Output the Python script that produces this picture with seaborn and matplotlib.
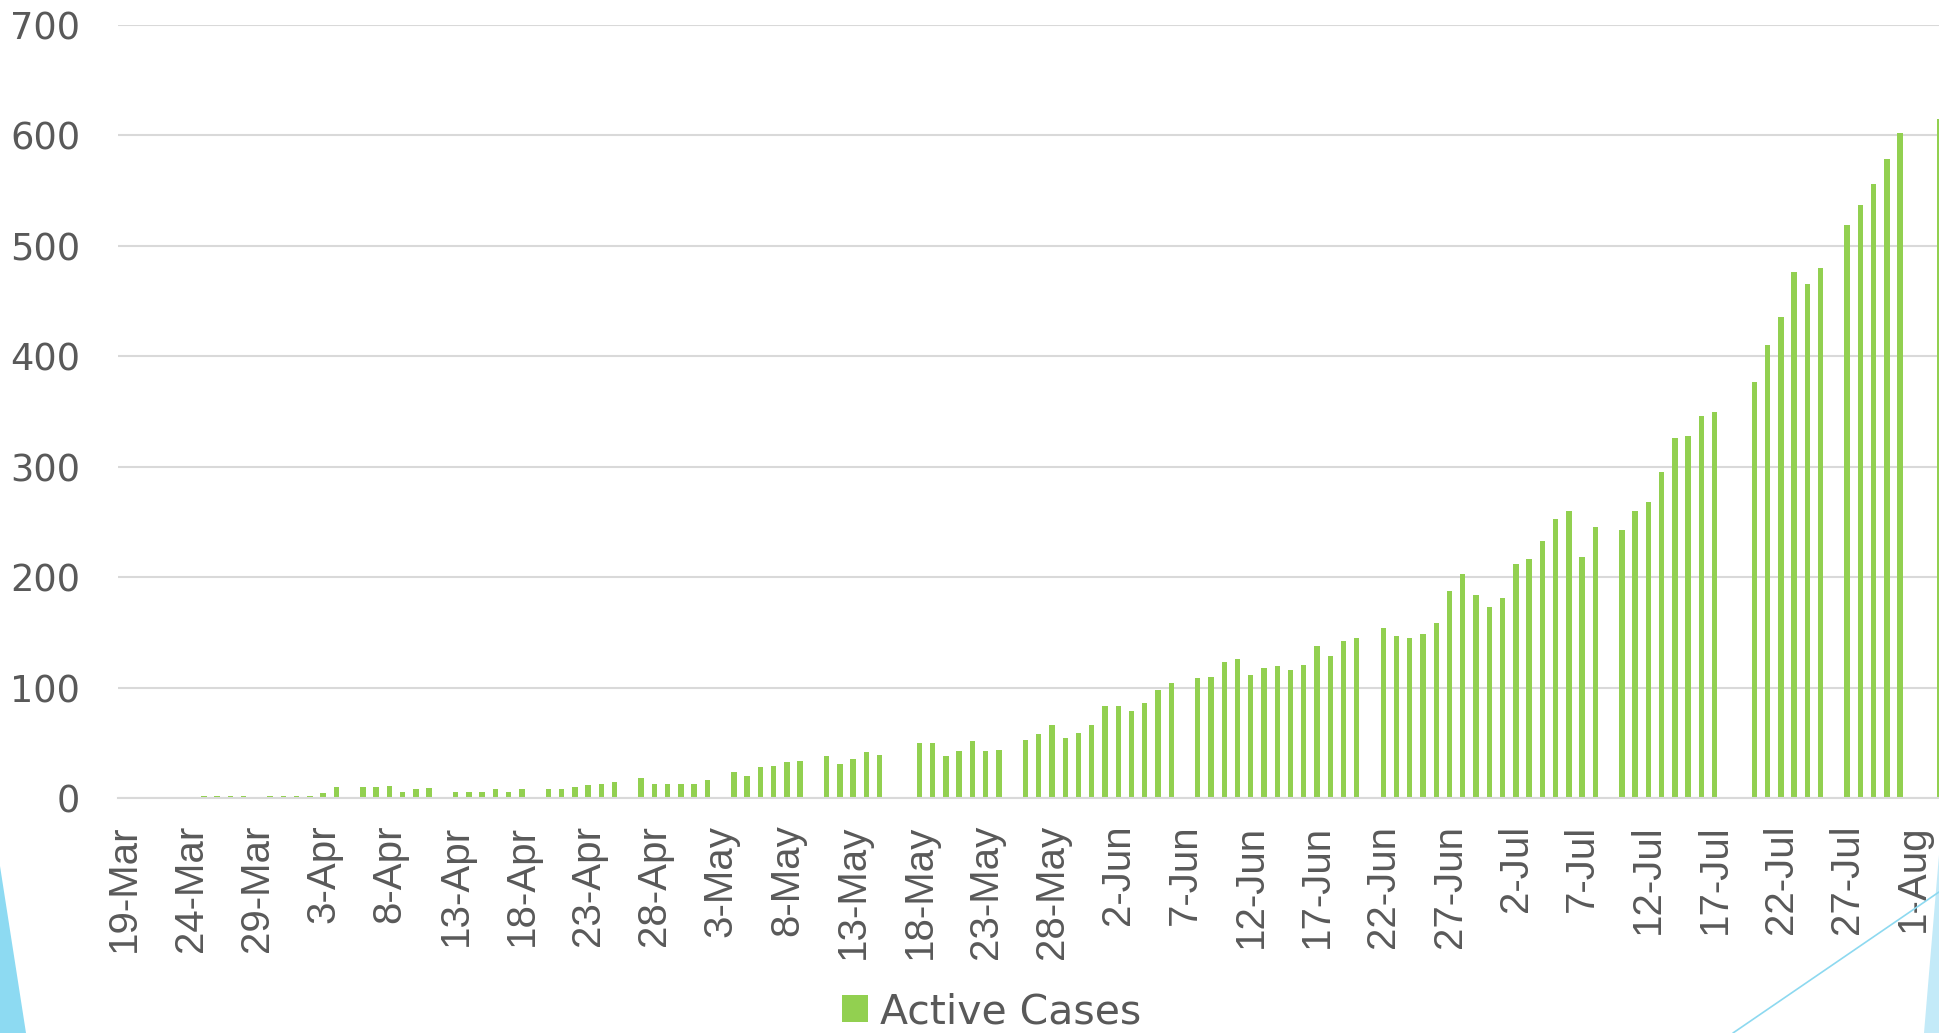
import pandas as pd
import matplotlib
matplotlib.use("Agg")
import matplotlib.pyplot as plt
from matplotlib.patches import Polygon
from matplotlib.lines import Line2D
from matplotlib.ticker import NullFormatter
import seaborn as sns

# Active cases per reported day (2020), gaps = no report
dates = [
    "25-Mar", "26-Mar", "27-Mar", "28-Mar", "30-Mar", "31-Mar",
    "1-Apr", "2-Apr", "3-Apr", "4-Apr", "6-Apr", "7-Apr", "8-Apr", "9-Apr", "10-Apr", "11-Apr",
    "13-Apr", "14-Apr", "15-Apr", "16-Apr", "17-Apr", "18-Apr", "20-Apr", "21-Apr", "22-Apr",
    "23-Apr", "24-Apr", "25-Apr", "27-Apr", "28-Apr", "29-Apr", "30-Apr",
    "1-May", "2-May", "4-May", "5-May", "6-May", "7-May", "8-May", "9-May", "11-May", "12-May",
    "13-May", "14-May", "15-May", "18-May", "19-May", "20-May", "21-May", "22-May", "23-May",
    "24-May", "26-May", "27-May", "28-May", "29-May", "30-May", "31-May",
    "1-Jun", "2-Jun", "3-Jun", "4-Jun", "5-Jun", "6-Jun", "8-Jun", "9-Jun", "10-Jun", "11-Jun",
    "12-Jun", "13-Jun", "14-Jun", "15-Jun", "16-Jun", "17-Jun", "18-Jun", "19-Jun", "20-Jun",
    "22-Jun", "23-Jun", "24-Jun", "25-Jun", "26-Jun", "27-Jun", "28-Jun", "29-Jun", "30-Jun",
    "1-Jul", "2-Jul", "3-Jul", "4-Jul", "5-Jul", "6-Jul", "7-Jul", "8-Jul", "10-Jul", "11-Jul",
    "12-Jul", "13-Jul", "14-Jul", "15-Jul", "16-Jul", "17-Jul", "20-Jul", "21-Jul", "22-Jul",
    "23-Jul", "24-Jul", "25-Jul", "27-Jul", "28-Jul", "29-Jul", "30-Jul", "31-Jul", "3-Aug",
]
active_cases = [
    2, 2, 2, 2, 2, 2,
    2, 2, 5, 10, 10, 10, 11, 6, 8, 9,
    6, 6, 6, 8, 6, 8, 8, 8, 10,
    12, 13, 15, 18, 13, 13, 13,
    13, 17, 24, 20, 28, 29, 33, 34, 38, 31,
    36, 42, 39, 50, 50, 38, 43, 52, 43,
    44, 53, 58, 66, 55, 59, 66,
    84, 84, 79, 86, 98, 104, 109, 110, 123, 126,
    112, 118, 120, 116, 121, 138, 129, 142, 145,
    154, 147, 145, 149, 159, 188, 203, 184, 173,
    181, 212, 217, 233, 253, 260, 218, 246, 243, 260,
    268, 295, 326, 328, 346, 350, 377, 410, 436,
    476, 466, 480, 519, 537, 556, 579, 602, 615,
]
start_date = "19-Mar"
end_label_date = "1-Aug"
y_ticks = [0, 100, 200, 300, 400, 500, 600, 700]
series_name = "Active Cases"

GREEN = "#92D050"
GRID = "#D9D9D9"
TEXT = "#595959"
W, H = 1939, 1033

def to_date(s):
    return pd.to_datetime(s + "-2020", format="%d-%b-%Y")

t0 = to_date(start_date)
df = pd.DataFrame({"date": [to_date(d) for d in dates], "cases": active_cases})
df["day"] = (df["date"] - t0).dt.days

sns.set_style("white")

fig = plt.figure(figsize=(W / 100, H / 100), dpi=100)
ax = fig.add_axes([117.7 / W, 1 - 798.3 / H, (W - 117.7) / W, (798.3 - 25) / H])

sns.barplot(data=df, x="day", y="cases", native_scale=True, width=0.41,
            color=GREEN, saturation=1, linewidth=0,
            label=series_name, ax=ax)

# x axis: ticks at day boundaries every 5 days, labels on the day itself
last_day = (to_date(end_label_date) - t0).days
label_days = list(range(0, last_day + 1, 5))
label_text = [f"{(t0 + pd.Timedelta(days=d)).day}-{(t0 + pd.Timedelta(days=d)).strftime('%b')}"
              for d in label_days]
ax.set_xticks([d - 0.5 for d in label_days])
ax.xaxis.set_major_formatter(NullFormatter())
ax.set_xticks(label_days, label_text, minor=True, fontfamily="Liberation Sans",
              fontsize=29, color=TEXT)
ax.tick_params(axis="x", which="major", length=9.5, width=1.5, color=GRID, direction="out")
ax.tick_params(axis="x", which="minor", length=0, pad=19, labelrotation=90)
ax.set_xlim(-0.5, (W - 117.7) / 13.252 - 0.5)

ax.set_ylim(0, 700)
ax.set_yticks(y_ticks)
ax.tick_params(axis="y", length=0, pad=27, labelsize=26.5, labelcolor=TEXT)

ax.yaxis.grid(True, color=GRID, linewidth=1.5)
ax.set_axisbelow(True)
for side in ["left", "right", "top"]:
    ax.spines[side].set_visible(False)
ax.spines["bottom"].set_color(GRID)
ax.spines["bottom"].set_linewidth(1.5)
ax.set_xlabel("")
ax.set_ylabel("")

ax.legend(loc="center", bbox_to_anchor=(992 / W, 1 - 1012 / H), bbox_transform=fig.transFigure,
          frameon=False, fontsize=29.5, labelcolor=TEXT, handlelength=0.63,
          handleheight=0.63, handletextpad=0.3)

# slide decorations
def fp(x, y):
    return (x / W, 1 - y / H)

fig.add_artist(Polygon([fp(0, 866), fp(26, 1033), fp(0, 1033)], closed=True,
                       transform=fig.transFigure, facecolor="#8DDAF2", edgecolor="none"))
fig.add_artist(Polygon([fp(1939, 855), fp(1939, 1033), fp(1924, 1033)], closed=True,
                       transform=fig.transFigure, facecolor="#C3EAF8", edgecolor="none"))
x0, y0 = fp(1733, 1033)
x1, y1 = fp(1939, 892)
fig.add_artist(Line2D([x0, x1], [y0, y1], transform=fig.transFigure, color="#8DD9F0", linewidth=1.2))

plt.savefig("out.png", dpi=100)
plt.close()
